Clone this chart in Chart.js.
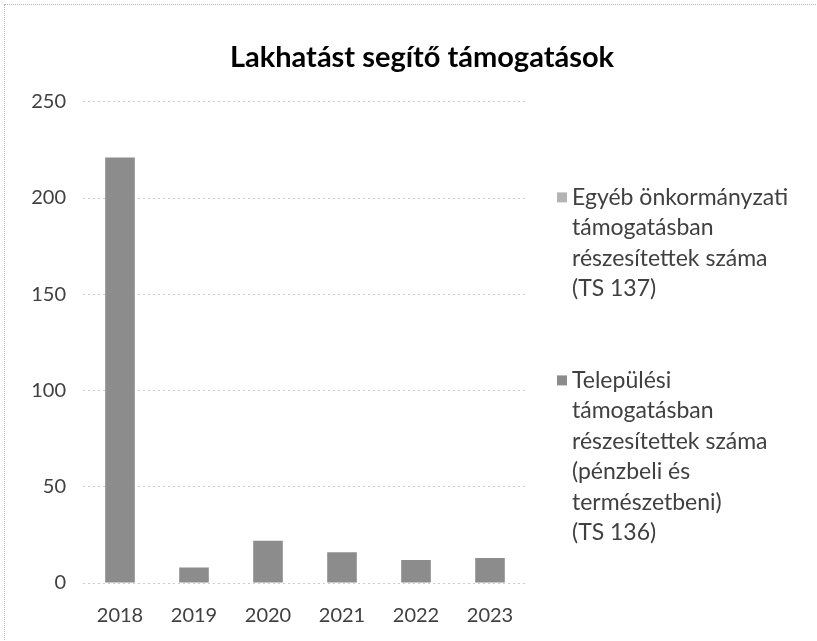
<!DOCTYPE html>
<html>
<head>
<meta charset="utf-8">
<script src="https://cdn.jsdelivr.net/npm/chart.js@4.4.1/dist/chart.umd.min.js"></script>
<style>
  body { margin: 0; background: #fff; }
  #wrap { position: relative; width: 817px; height: 641px; }
  #frame { position: absolute; left: 4px; top: 4px; width: 830px; height: 660px; border: 1px dotted #b8b8b8; box-sizing: border-box; }
  canvas { position: absolute; left: 0; top: 0; }
</style>
</head>
<body>
<div id="wrap">
  <div id="frame"></div>
  <canvas id="chart" width="817" height="641"></canvas>
</div>
<script>
// chart data
const years = ['2018', '2019', '2020', '2021', '2022', '2023'];
const egyebValues = [0, 0, 0, 0, 0, 0];
const telepulesiValues = [221, 8, 22, 16, 12, 13];
const yTicks = [0, 50, 100, 150, 200, 250];

const egyebLabel = ['Egyéb önkormányzati', 'támogatásban', 'részesítettek száma', '(TS 137)'];
const telepulesiLabel = ['Települési', 'támogatásban', 'részesítettek száma', '(pénzbeli és', 'természetbeni)', '(TS 136)'];

const fontFamily = 'Lato, "Open Sans", sans-serif';

// legend as its own layout box on the right, so the long labels can wrap
const wrapLegend = {
    id: 'wrapLegend',
    beforeInit(chart) {
        const box = {
            position: 'right',
            weight: 0,
            fullSize: false,
            options: {},
            isHorizontal: () => false,
            update(maxWidth, maxHeight) {
                this.width = 290;
                this.height = maxHeight;
            },
            draw() {
                const ctx = chart.ctx;
                const area = chart.chartArea;
                const lineH = 30.5;
                const gap = 3 * lineH;
                const texts = [egyebLabel, telepulesiLabel];
                const total = (texts[0].length + texts[1].length - 1) * lineH + gap;
                let y = (area.top + area.bottom) / 2 + 38 - total / 2;
                const x = this.left + 30;
                ctx.save();
                ctx.font = '23px ' + fontFamily;
                ctx.textBaseline = 'middle';
                texts.forEach((lines, i) => {
                    ctx.fillStyle = chart.data.datasets[i].backgroundColor;
                    ctx.fillRect(x, y - 5, 10, 10);
                    ctx.fillStyle = '#404040';
                    lines.forEach((t, j) => ctx.fillText(t, x + 15, y + j * lineH));
                    y += (lines.length - 1) * lineH + gap;
                });
                ctx.restore();
            }
        };
        Chart.layouts.addBox(chart, box);
    }
};

new Chart(document.getElementById('chart'), {
    type: 'bar',
    data: {
        labels: years,
        datasets: [
            {
                label: egyebLabel.join(' '),
                data: egyebValues,
                backgroundColor: '#b4b4b4',
                categoryPercentage: 1,
                barPercentage: 0.4
            },
            {
                label: telepulesiLabel.join(' '),
                data: telepulesiValues,
                backgroundColor: '#8c8c8c',
                categoryPercentage: 1,
                barPercentage: 0.4
            }
        ]
    },
    options: {
        responsive: false,
        animation: false,
        layout: { padding: { left: 27, right: 0, bottom: 0 } },
        plugins: {
            title: {
                display: true,
                text: 'Lakhatást segítő támogatások',
                color: '#000',
                font: { family: fontFamily, size: 29, weight: 'bold' },
                padding: { top: 40, bottom: 27 }
            },
            legend: { display: false },
            tooltip: { enabled: false }
        },
        scales: {
            x: {
                stacked: true,
                grid: { display: false },
                border: { display: false },
                ticks: { color: '#404040', font: { family: fontFamily, size: 20 }, padding: 13 }
            },
            y: {
                stacked: true,
                min: 0,
                max: 250,
                afterBuildTicks: axis => { axis.ticks = yTicks.map(v => ({ value: v })); },
                afterFit: axis => { axis.width = 56; },
                grid: { color: '#cccccc', drawTicks: false },
                border: { display: false, dash: [2, 3] },
                ticks: { color: '#404040', font: { family: fontFamily, size: 20 }, padding: 17 }
            }
        }
    },
    plugins: [wrapLegend]
});
</script>
</body>
</html>
